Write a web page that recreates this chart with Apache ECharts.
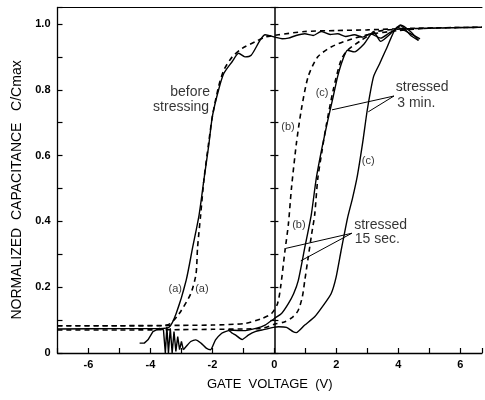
<!DOCTYPE html>
<html><head><meta charset="utf-8">
<script src="https://cdn.jsdelivr.net/npm/echarts@6/dist/echarts.min.js"></script>
<style>html,body{margin:0;padding:0;background:#fff}#c{width:485px;height:400px}</style>
</head><body><div id="c"></div>
<script>
// ---- data (gate voltage V, normalized capacitance C/Cmax) ----
var aSolid = [[-7,0.073],[-5,0.074],[-3.7,0.074],[-3.4,0.078],[-3.17,0.12],[-2.85,0.22],[-2.64,0.32],[-2.43,0.42],[-2.27,0.53],[-2.12,0.63],[-2.0,0.72],[-1.8,0.8],[-1.63,0.85],[-1.36,0.886],[-1.15,0.911],[-0.95,0.9],[-0.75,0.905],[-0.46,0.951],[-0.3,0.967],[0.02,0.96],[0.25,0.955],[0.45,0.957],[0.7,0.965],[0.98,0.97],[1.25,0.965],[1.51,0.977],[1.8,0.968],[2.04,0.97],[2.3,0.962],[2.58,0.967],[2.85,0.96],[3.1,0.97],[3.43,0.957],[3.7,0.972],[3.86,0.98],[4.07,0.997],[4.39,0.977],[4.65,0.95]];
var aDash = [[-7,0.083],[-5,0.083],[-3.6,0.083],[-3.35,0.09],[-3.07,0.12],[-2.7,0.18],[-2.53,0.24],[-2.48,0.32],[-2.38,0.42],[-2.27,0.53],[-2.12,0.64],[-2.0,0.72],[-1.8,0.81],[-1.63,0.86],[-1.36,0.9],[-1.04,0.926],[-0.62,0.946],[-0.3,0.96],[0.13,0.967],[0.98,0.977],[2,0.98],[3,0.982],[4.5,0.987],[6.7,0.99]];
var bDashL = [[-7,0.083],[-5,0.083],[-3,0.084],[-2,0.085],[-0.94,0.09],[-0.4,0.105],[-0.09,0.12],[0.1,0.15],[0.2,0.2],[0.34,0.31],[0.45,0.39],[0.55,0.5],[0.71,0.637],[0.87,0.74],[1.09,0.84],[1.4,0.9],[1.83,0.93],[2.36,0.95],[3.0,0.967],[4.0,0.98],[5.0,0.987],[6.7,0.99]];
var bDashR = [[-7,0.07],[-5,0.07],[-3,0.071],[-2,0.072],[-1,0.073],[-0.4,0.075],[0.02,0.088],[0.34,0.095],[0.6,0.11],[0.77,0.13],[0.9,0.17],[0.98,0.22],[1.09,0.29],[1.2,0.36],[1.3,0.42],[1.4,0.53],[1.53,0.61],[1.67,0.69],[1.9,0.8],[2.15,0.89],[2.36,0.92],[2.8,0.95],[3.3,0.977],[4.2,0.985],[6.7,0.99]];
var cSolidL = [[-1.5,0.07],[-1.0,0.068],[-0.6,0.075],[-0.3,0.085],[0,0.105],[0.23,0.12],[0.45,0.15],[0.62,0.18],[0.77,0.22],[0.98,0.32],[1.19,0.42],[1.35,0.53],[1.55,0.63],[1.73,0.71],[1.9,0.78],[2.04,0.84],[2.2,0.89],[2.36,0.92],[2.58,0.915],[2.9,0.94],[3.2,0.977],[3.43,0.947],[3.86,0.98],[4.07,0.995],[4.4,0.965],[4.65,0.95]];
var lowNoise = [[-4.35,0.03],[-4.2,0.03],[-4.08,0.04],[-3.92,0.065],[-3.71,0.075],[-3.58,0.07],[-3.52,0.0],[-3.47,0.08],[-3.42,0.0],[-3.36,0.075],[-3.3,0.0],[-3.24,0.065],[-3.18,0.005],[-3.12,0.05],[-3.06,0.01],[-3.0,0.035],[-2.94,0.01]];
var cSolidR = [[-2.94,0.01],[-2.8,0.025],[-2.7,0.035],[-2.54,0.04],[-2.37,0.03],[-2.2,0.015],[-2.06,0.01],[-1.9,0.04],[-1.7,0.06],[-1.58,0.065],[-1.47,0.068],[-1.36,0.06],[-1.26,0.055],[-1.04,0.041],[-0.83,0.055],[-0.62,0.065],[-0.4,0.07],[-0.03,0.078],[0.13,0.08],[0.39,0.078],[0.6,0.065],[0.71,0.062],[0.98,0.085],[1.3,0.11],[1.62,0.15],[1.83,0.18],[1.99,0.23],[2.15,0.31],[2.36,0.41],[2.52,0.47],[2.68,0.54],[2.85,0.64],[3.0,0.74],[3.2,0.84],[3.4,0.88],[3.64,0.93],[3.96,0.99],[4.1,0.985],[4.4,0.97],[4.7,0.955]];

// annotations: [V, C, text]
var notesBig = [[-2.72,0.793,'before'],[-3.01,0.748,'stressing'],[4.77,0.808,'stressed'],[4.58,0.76,'3 min.'],[3.43,0.389,'stressed'],[3.32,0.347,'15 sec.']];
var notesSmall = [[-3.2,0.195,'(a)'],[-2.34,0.195,'(a)'],[0.44,0.687,'(b)'],[0.79,0.389,'(b)'],[1.54,0.79,'(c)'],[3.03,0.584,'(c)']];
// arrows: [fromV, fromC, toV, toC]
var arrows = [[3.86,0.781,1.86,0.739],[3.86,0.781,3.03,0.733],[2.5,0.364,0.37,0.318],[2.5,0.364,0.85,0.28]];

var xTicks = [-6,-4,-2,0,2,4,6];
var yTicks = [0,0.2,0.4,0.6,0.8,1.0];

var chart = echarts.init(document.getElementById('c'), null, {renderer:'canvas'});
var ink = '#000';
var tickFont = {color:ink, fontFamily:'Liberation Sans', fontWeight:'bold', fontSize:11};
function solid(d, sm){return {type:'line', data:d, showSymbol:false, smooth:sm, lineStyle:{color:ink,width:1.4}, silent:true};}
function dashed(d){return {type:'line', data:d, showSymbol:false, smooth:0.25, lineStyle:{color:ink,width:1.6,type:[5,4]}, silent:true};}
function notes(arr, size){
  return {type:'scatter', data:arr.map(function(n){return {value:[n[0],n[1]], name:n[2]};}), symbolSize:0, silent:true,
    label:{show:true, position:'inside', formatter:function(p){return p.name;}, color:ink, textBorderWidth:0, fontFamily:'Liberation Sans', fontSize:size}};
}
var noteSeries = notes(notesBig, 14);
noteSeries.markLine = {silent:true, symbol:['none','arrow'], symbolSize:[0,7], label:{show:false},
  lineStyle:{color:ink, width:1, type:'solid'},
  data: arrows.map(function(a){return [{coord:[a[0],a[1]]},{coord:[a[2],a[3]]}];})};

chart.setOption({
  animation:false,
  backgroundColor:'#fff',
  grid:{left:57.5, right:0, top:7.5, bottom:47, containLabel:false},
  xAxis:[{type:'value', min:-7, max:6.7, interval:1, position:'bottom',
    axisLine:{onZero:false, lineStyle:{color:ink,width:1.3}},
    axisTick:{inside:true, length:5, lineStyle:{color:ink,width:1.2}},
    axisLabel:Object.assign({margin:6, formatter:function(v){return xTicks.indexOf(v)>=0 ? String(v) : '';}}, tickFont),
    splitLine:{show:false},
    name:'GATE  VOLTAGE  (V)', nameLocation:'middle', nameGap:25,
    nameTextStyle:{color:ink, fontFamily:'Liberation Sans', fontSize:13}},
   {type:'value', min:-7, max:6.7, position:'top', axisLine:{onZero:false, lineStyle:{color:ink,width:1}},
    axisTick:{show:false}, axisLabel:{show:false}, splitLine:{show:false}}],
  yAxis:[{type:'value', min:0, max:1.05, interval:0.1, position:'left',
    axisLine:{onZero:false, lineStyle:{color:ink,width:1.3}},
    axisTick:{inside:true, length:5, lineStyle:{color:ink,width:1.2}},
    axisLabel:Object.assign({margin:7, formatter:function(v){
      for (var i=0;i<yTicks.length;i++){ if (Math.abs(v-yTicks[i])<1e-6) return i===0?'0':yTicks[i].toFixed(1);} return '';}}, tickFont),
    splitLine:{show:false},
    name:'NORMALIZED  CAPACITANCE   C/Cmax     ', nameLocation:'middle', nameGap:31,
    nameTextStyle:{color:ink, fontFamily:'Liberation Sans', fontSize:14}},
   {type:'value', min:0, max:1.05, interval:0.1, position:'left',
    axisLine:{onZero:true, lineStyle:{color:ink,width:1.5}},
    axisTick:{inside:true, length:4, lineStyle:{color:ink,width:1.2}},
    axisLabel:{show:false}, splitLine:{show:false}},
   {type:'value', min:0, max:1.05, interval:0.1, position:'left',
    axisLine:{show:false, onZero:true},
    axisTick:{inside:false, length:4, lineStyle:{color:ink,width:1.2}},
    axisLabel:{show:false}, splitLine:{show:false}}],
  series:[
    solid(aSolid, 0.25), dashed(aDash), dashed(bDashL), dashed(bDashR),
    solid(cSolidL, 0.2), solid(lowNoise, false), solid(cSolidR, 0.2),
    noteSeries, notes(notesSmall, 11)
  ]
});
</script></body></html>
